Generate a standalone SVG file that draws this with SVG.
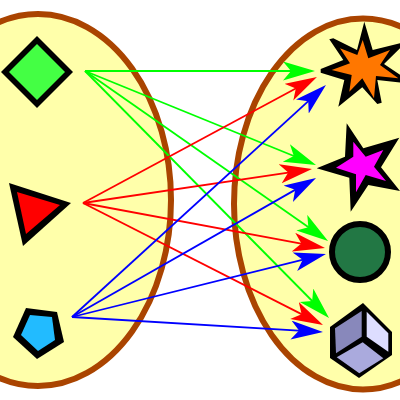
<svg xmlns="http://www.w3.org/2000/svg" width="400" height="400" viewBox="0 0 400 400">
  <style>
    .set { fill: #ffffaa; stroke: #aa4400; stroke-width: 6; }
    .g { stroke: #00ff00; marker-end: url(#ag); }
    .r { stroke: #ff0000; marker-end: url(#ar); }
    .b { stroke: #0000ff; marker-end: url(#ab); }
    #connectors line { stroke-width: 1.8; fill: none; }
    .k { fill: #000000; }
  </style>
  <defs>
    <marker id="ag" markerUnits="userSpaceOnUse" markerWidth="34" markerHeight="20" refX="20" refY="9.5" orient="auto"><path d="M0,0 L32,9.5 L0,19 L8,9.5 z" fill="#00ff00"/></marker>
    <marker id="ar" markerUnits="userSpaceOnUse" markerWidth="34" markerHeight="20" refX="20" refY="9.5" orient="auto"><path d="M0,0 L32,9.5 L0,19 L8,9.5 z" fill="#ff0000"/></marker>
    <marker id="ab" markerUnits="userSpaceOnUse" markerWidth="34" markerHeight="20" refX="20" refY="9.5" orient="auto"><path d="M0,0 L32,9.5 L0,19 L8,9.5 z" fill="#0000ff"/></marker>
  </defs>
  <rect width="400" height="400" fill="#ffffff"/>
  <g id="set-left"><ellipse class="set" cx="38" cy="200" rx="133" ry="186"/></g>
  <g id="set-right"><ellipse class="set" cx="363" cy="204" rx="129" ry="185.5"/></g>
  <g id="connectors">
    <line class="g" x1="85" y1="71" x2="303" y2="71"/>
    <line class="g" x1="85" y1="71" x2="304.9" y2="160.5"/>
    <line class="g" x1="85" y1="71" x2="318.2" y2="234.1"/>
    <line class="g" x1="85" y1="71" x2="320.6" y2="309.5"/>
    <line class="r" x1="83" y1="203" x2="306.4" y2="82.7"/>
    <line class="r" x1="83" y1="203" x2="300.1" y2="170.8"/>
    <line class="r" x1="83" y1="203" x2="313.2" y2="245.8"/>
    <line class="r" x1="83" y1="203" x2="312.3" y2="319.6"/>
    <line class="b" x1="72" y1="317" x2="317.1" y2="93.1"/>
    <line class="b" x1="72" y1="317" x2="305.6" y2="183.9"/>
    <line class="b" x1="72" y1="317" x2="314.3" y2="256.9"/>
    <line class="b" x1="72" y1="317" x2="311" y2="331.3"/>
  </g>
  <g id="diamond">
    <polygon class="k" points="37,36 73,72 37,108 1,72"/>
    <polygon fill="#44ff44" points="37,44 65,72 37,100 9,72"/>
  </g>
  <g id="triangle">
    <polygon class="k" points="9,183 71,203 23,246"/>
    <polygon fill="#ff0000" points="17,192 60,205 26,234"/>
  </g>
  <g id="pentagon">
    <polygon class="k" points="26,308 57,312 64,342 37,359 13,337"/>
    <polygon fill="#22bbff" points="30,315 52,317 55,340 38,351 21,335"/>
  </g>
  <g id="star-orange">
    <polygon class="k" points="364.3,21.7 372.7,50 407,41.5 384,64 414,84 377.3,80 381.7,102.7 377.3,104 362.3,87.3 338.3,106.7 344.3,80 320.7,72.7 320.7,69 343.3,60 329.3,39.3 333.3,38.3 357,50"/>
    <polygon fill="#ff7700" points="362.7,40 368.3,58.3 390,50 380,65 398.3,78.3 376,76 374,98.3 362.3,78.3 349.3,91.7 351.7,75 331.7,70 350,63.3 340,48.3 357.3,55"/>
  </g>
  <g id="star-magenta">
    <polygon class="k" points="346.7,123.3 363.3,148.3 399.3,137.7 381,167.3 400,191 368.3,185 350.7,211.7 349.3,177.7 316.7,168.3 345,156.7"/>
    <polygon fill="#ff00ff" points="353.3,141.7 365.7,156.7 383.3,150 374,166.7 386,181 365.7,175 356,192.3 356,174.3 336,167.7 353.3,156.7"/>
  </g>
  <g id="circle"><circle cx="360" cy="252" r="28" fill="#227744" stroke="#000000" stroke-width="6"/></g>
  <g id="cube">
    <polygon class="k" points="363,303 392,332 392,355 359,378 330,358 330,327"/>
    <polygon fill="#8888bb" points="361.7,311 361.7,336.7 336,353.3 335,328.3"/>
    <polygon fill="#ddddff" points="366.7,311.7 388.3,333.3 388.3,351.7 366.7,336.7"/>
    <polygon fill="#aaaadd" points="362.7,342.3 383.3,358.3 359.3,373.3 336.7,357.3"/>
  </g>
</svg>
